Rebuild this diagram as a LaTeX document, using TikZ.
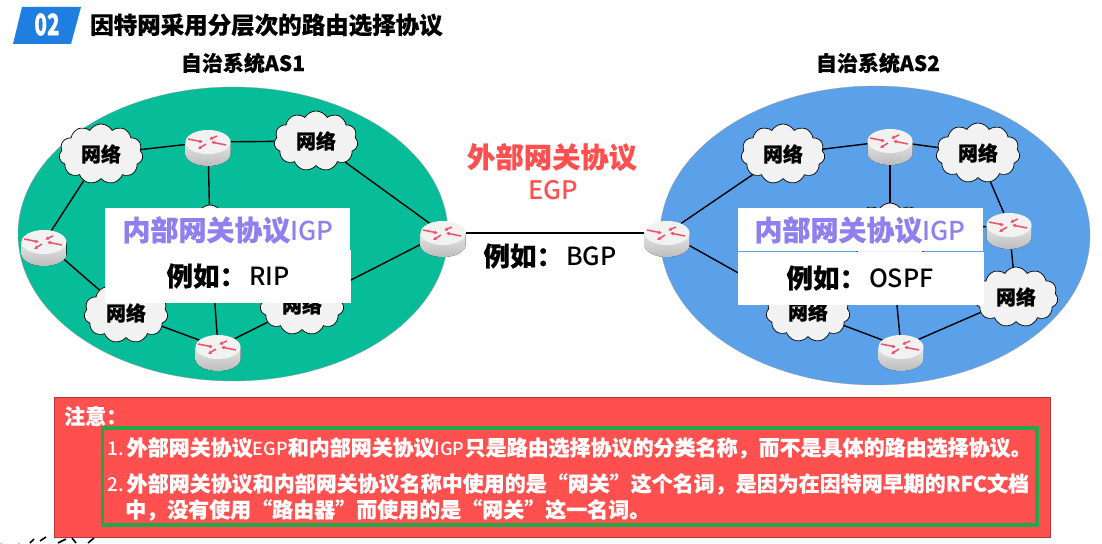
\documentclass[tikz,border=0pt]{standalone}
\usepackage{fontspec}
\setmainfont{Noto Sans CJK SC}[BoldFeatures={FakeBold=0.4}]
\newfontfamily\medfont{Noto Sans CJK SC Medium}
\usepackage{xcolor}
\usetikzlibrary{positioning,arrows.meta,calc,shapes.symbols,shapes.geometric,backgrounds}
\definecolor{tealas}{HTML}{07BC98}
\definecolor{blueas}{HTML}{5AA1E9}
\definecolor{badgeblue}{HTML}{1F7FE0}
\definecolor{notered}{HTML}{FF5050}
\definecolor{igppurple}{HTML}{8F80F0}
\definecolor{notegreen}{HTML}{22A84A}
\definecolor{cloudgray}{HTML}{F2F2F2}
\definecolor{routerred}{HTML}{F0506A}
\definecolor{logopurple}{HTML}{A060A8}
\newcommand{\fs}[1]{\fontsize{#1}{#1}\selectfont}
\newcommand{\latinpart}[2]{{\fs{#1}\medfont\mdseries #2}}
\tikzset{
  router/.pic={
    \fill[bottom color=black!26, top color=black!10] (-22.5,0) -- (-22.5,12) arc[start angle=180, end angle=0, x radius=22.5, y radius=12] -- (22.5,0) -- cycle;
    \node[ellipse, inner sep=0pt, minimum width=45pt, minimum height=24pt, fill=black!5] (-top) at (0,0) {};
    \draw[routerarrow] (-20,-3) -- (-5,0);
    \draw[routerarrow] (9,-6) -- (1,-2.5);
    \draw[routerarrow] (-2,2) -- (-10,7);
    \draw[routerarrow] (18,3) -- (3,0);
  },
}
\begin{document}
\begin{tikzpicture}[
    x=1pt, y=-1pt,
    routerarrow/.style={draw=routerred, line width=1.5pt, -{Latex[length=3.5pt,width=4pt]}},
    asarea/.style={ellipse, inner sep=0pt, outer sep=0pt, draw=black!40, line width=0.3pt},
    netcloud/.style={cloud, cloud puffs=11, cloud puff arc=120, aspect=1.35, draw=black, line width=0.7pt, fill=cloudgray, inner sep=0pt, minimum width=84pt, minimum height=60pt, font=\fs{20}\bfseries},
    link/.style={draw=black, line width=1.4pt},
    whitebox/.style={fill=white, inner sep=0pt, outer sep=0pt, anchor=north west},
    heading/.style={font=\fs{21}\bfseries},
    notetext/.style={font=\fs{21}\bfseries, text=white, anchor=west, inner sep=0pt},
  ]
  \useasboundingbox (0,0) rectangle (1102,543);

  % Title
  \fill[badgeblue] (13,44) -- (22,7) -- (81,7) -- (71,44) -- cycle;
  \node[text=white, font=\fs{26}\bfseries] (badgenum) at (47,24.5) {\scalebox{0.8}[1.15]{02}};
  \node[anchor=west, inner sep=0pt, font=\fs{23.5}\bfseries] (title) at (90,25) {因特网采用分层次的路由选择协议};
  \node[heading] (as1label) at (243,63) {自治系统AS1};
  \node[heading] (as2label) at (878,63) {自治系统AS2};

  % Routers AS1
  \pic (ra1) at (208,142) {router};
  \pic (ra2) at (44,242) {router};
  \pic (ra3) at (443,233) {router};
  \pic (ra4) at (218,347) {router};

  % Routers AS2
  \pic (rb1) at (890,141) {router};
  \pic (rb2) at (667,233) {router};
  \pic (rb3) at (1009,225) {router};
  \pic (rb4) at (901,347) {router};

  % Clouds AS1
  \node[netcloud] (na1) at (101,154) {网络};
  \node[netcloud] (na2) at (316,141) {网络};
  \node[netcloud] (na3) at (126,313) {网络};
  \node[netcloud] (na4) at (302,305) {网络};
  \node[netcloud] (na5) at (210,235) {};

  % Clouds AS2
  \node[netcloud] (nb1) at (783,154) {网络};
  \node[netcloud] (nb2) at (978,153) {网络};
  \node[netcloud] (nb3) at (1016,297) {网络};
  \node[netcloud] (nb4) at (808,312) {网络};
  \node[netcloud] (nb5) at (890,233) {};

  % Areas and links
  \begin{scope}[on background layer]
    \node[asarea, fill=tealas, minimum width=430pt, minimum height=294pt] (as1) at (233,234) {};
    \node[asarea, fill=blueas, minimum width=430pt, minimum height=299pt] (as2) at (875,235.5) {};
    \foreach \a/\b in {na1/ra1-top, ra1-top/na2, na2/ra3-top, ra3-top/na4, ra1-top/na5, na1/ra2-top, ra2-top/na3, na3/ra4-top, ra4-top/na4, ra4-top/na5, ra3-top/rb2-top, rb2-top/nb1, rb2-top/nb4, nb1/rb1-top, rb1-top/nb2, nb2/rb3-top, rb3-top/nb3, nb3/rb4-top, rb4-top/nb4, rb1-top/nb5, rb4-top/nb5, nb5/rb3-top} {
      \draw[link] (\a) -- (\b);
    }
  \end{scope}

  % White panels AS1
  \node[whitebox, minimum width=245pt, minimum height=43pt] (igpa) at (105,208) {};
  \node[whitebox, minimum width=246pt, minimum height=53pt] (ripa) at (105,250) {};
  \node[text=igppurple, font=\fs{28}\bfseries] (igpatext) at (228,230) {内部网关协议\latinpart{26}{IGP}};
  \node[font=\fs{26.5}\bfseries] (ripatext) at (228,276) {例如：\hspace{3pt}\latinpart{25}{RIP}};

  % White panels AS2
  \node[whitebox, minimum width=245pt, minimum height=43pt] (igpb) at (738,208) {};
  \node[whitebox, minimum width=246pt, minimum height=53pt] (ospfb) at (738,252) {};
  \node[text=igppurple, font=\fs{28}\bfseries] (igpbtext) at (860,230) {内部网关协议\latinpart{26}{IGP}};
  \node[font=\fs{26.5}\bfseries] (ospfbtext) at (860,278) {例如：\hspace{3pt}\latinpart{25}{OSPF}};

  % EGP
  \node[text=notered, font=\fs{28.3}\bfseries] (egpname) at (552,157) {外部网关协议};
  \node[text=notered] (egp) at (553,190) {\latinpart{25.5}{EGP}};
  \node[font=\fs{26.5}\bfseries] (bgp) at (550,256) {例如：\hspace{3pt}\latinpart{25}{BGP}};

  % Note
  \node[anchor=north west, inner sep=0pt, outer sep=0pt, minimum width=996pt, minimum height=140pt, fill=notered, draw=black!30!notered, line width=0.5pt] (notebox) at (54,397) {};
  \node[anchor=north west, inner sep=0pt, outer sep=0pt, minimum width=934.5pt, minimum height=97pt, draw=notegreen, line width=3.5pt] (greenbox) at (102.5,428) {};
  \node[notetext] (notehead) at (64,416) {注意：};
  \node[notetext] (noteone) at (107,448) {\latinpart{19}{1.}\hspace{3pt}外部网关协议\latinpart{18}{EGP}和内部网关协议\latinpart{18}{IGP}只是路由选择协议的分类名称，而不是具体的路由选择协议。};
  \node[notetext] (notetwo) at (107,484) {\latinpart{19}{2.}\hspace{3pt}外部网关协议和内部网关协议名称中使用的是“网关”这个名词，是因为在因特网早期的RFC文档};
  \node[notetext] (notethree) at (125,510) {中，没有使用“路由器”而使用的是“网关”这一名词。};

  % Logo
  \draw[logopurple, line width=0.8pt] (1,543) arc[start angle=180, end angle=0, radius=9];
  \draw[line width=1.6pt] (30,543) -- (34,539) (40,541) -- (46,537) (58,543) -- (66,539) (72,538) -- (76,543) (88,543) -- (94,538);
\end{tikzpicture}
\end{document}
